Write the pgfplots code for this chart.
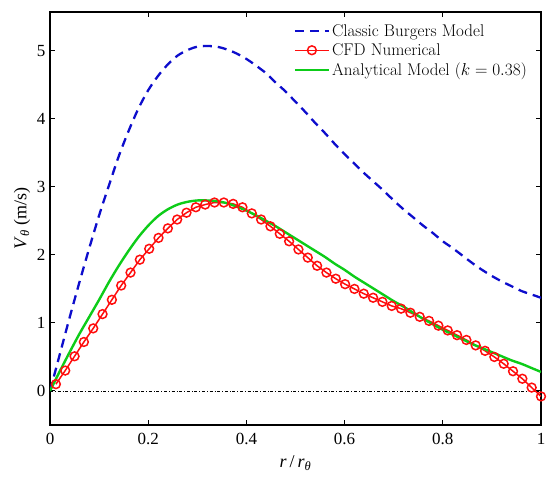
\documentclass[border=0pt]{standalone}
\usepackage{fontspec}
\usepackage{pgfplots}
\pgfplotsset{compat=1.18}
\newfontfamily\tnr{Liberation Serif}
\definecolor{cblue}{rgb}{0.05,0.05,0.8}
\definecolor{cred}{rgb}{1,0.05,0.05}
\definecolor{cgreen}{rgb}{0.05,0.80,0.10}
\pgfplotsset{
  lineleg/.style={legend image code/.code={\draw[##1] (0pt,0pt) -- (34pt,0pt);}},
  markleg/.style={legend image code/.code={\draw[##1, mark repeat=2, mark phase=2] plot coordinates {(0pt,0pt) (17pt,0pt) (34pt,0pt)};}},
}
\begin{document}
\begin{tikzpicture}
\begin{axis}[
  scale only axis, width=491pt, height=413pt,
  xmin=0, xmax=1, ymin=-0.5, ymax=5.57,
  xtick={0,0.2,0.4,0.6,0.8,1}, xticklabels={0,0.2,0.4,0.6,0.8,1},
  ytick={0,1,2,3,4,5}, yticklabels={0,1,2,3,4,5},
  tick align=inside, major tick length=5pt,
  axis line style={line width=1.1pt},
  every tick/.style={black, line width=1pt},
  tick label style={font=\tnr\fontsize{17}{17}\selectfont},
  xticklabel style={yshift=-5pt},
  yticklabel style={xshift=-1pt},
  /pgf/number format/assume math mode=true,
  xlabel={\tnr\fontsize{18}{18}\selectfont\textit{r}\,/\,\textit{r}\textsubscript{\textit{θ}}},
  ylabel={\tnr\fontsize{18}{18}\selectfont\textit{V}\textsubscript{\textit{θ}} (m/s)},
  xlabel style={yshift=-4pt},
  legend style={at={(1,1)}, anchor=north east, xshift=-9pt, yshift=-8pt,
    draw=none, fill=none, font=\fontsize{17}{19}\selectfont,
    row sep=2pt},
  legend cell align=left,
]
\addplot[black, line width=0.6pt, dash dot, forget plot] coordinates {(0,0) (1,0)};
\addplot[cblue, line width=2.3pt, dash pattern=on 9pt off 6pt, smooth, lineleg] coordinates {
(0,0) (0.02,0.54) (0.04,1.08) (0.06,1.60) (0.08,2.10) (0.10,2.58) (0.12,3.02)
(0.14,3.45) (0.16,3.82) (0.18,4.15) (0.20,4.42) (0.22,4.63) (0.24,4.80)
(0.26,4.93) (0.28,5.01) (0.30,5.06) (0.32,5.07) (0.34,5.06) (0.36,5.02)
(0.38,4.96) (0.40,4.88) (0.42,4.78) (0.44,4.67) (0.46,4.53) (0.48,4.40)
(0.50,4.25) (0.52,4.10) (0.54,3.94) (0.56,3.79) (0.58,3.63) (0.60,3.48)
(0.62,3.34) (0.64,3.20) (0.66,3.07) (0.68,2.94) (0.70,2.80) (0.72,2.67)
(0.74,2.55) (0.76,2.43) (0.78,2.32) (0.80,2.20) (0.82,2.10) (0.84,1.99)
(0.86,1.88) (0.88,1.78) (0.90,1.69) (0.92,1.61) (0.94,1.54) (0.96,1.47)
(0.98,1.42) (1.00,1.37)};
\addlegendentry{Classic Burgers Model}
\addplot[cred, line width=1.5pt, mark=o, mark size=4.4pt, mark options={line width=1.5pt, solid}, markleg] coordinates {
(0.012,0.10) (0.031,0.30) (0.050,0.51) (0.069,0.72) (0.088,0.92) (0.107,1.13)
(0.126,1.34) (0.145,1.55) (0.164,1.74) (0.183,1.93) (0.202,2.09) (0.221,2.25)
(0.240,2.39) (0.259,2.52) (0.278,2.62) (0.297,2.70) (0.316,2.74) (0.335,2.77)
(0.354,2.77) (0.373,2.75) (0.392,2.70) (0.411,2.61) (0.430,2.52) (0.449,2.42)
(0.468,2.31) (0.487,2.20) (0.506,2.08) (0.525,1.96) (0.544,1.84) (0.563,1.74)
(0.582,1.65) (0.601,1.57) (0.620,1.50) (0.639,1.43) (0.658,1.37) (0.677,1.31)
(0.696,1.25) (0.715,1.21) (0.734,1.15) (0.753,1.09) (0.772,1.03) (0.791,0.96)
(0.810,0.89) (0.829,0.82) (0.848,0.75) (0.867,0.67) (0.886,0.59) (0.905,0.50)
(0.924,0.40) (0.943,0.29) (0.962,0.18) (0.981,0.05) (1.000,-0.08)};
\addlegendentry{CFD Numerical}
\addplot[cgreen, line width=2.4pt, smooth, lineleg] coordinates {
(0,0) (0.02,0.29) (0.04,0.57) (0.06,0.84) (0.08,1.09) (0.10,1.34) (0.12,1.60)
(0.14,1.84) (0.16,2.06) (0.18,2.26) (0.20,2.43) (0.22,2.57) (0.24,2.67)
(0.26,2.74) (0.28,2.78) (0.30,2.80) (0.32,2.80) (0.34,2.79) (0.36,2.76)
(0.38,2.71) (0.40,2.65) (0.42,2.58) (0.44,2.50) (0.46,2.42) (0.48,2.33)
(0.50,2.24) (0.52,2.15) (0.54,2.06) (0.56,1.97) (0.58,1.87) (0.60,1.78)
(0.62,1.68) (0.64,1.59) (0.66,1.50) (0.68,1.41) (0.70,1.32) (0.72,1.24)
(0.74,1.15) (0.76,1.06) (0.78,0.98) (0.80,0.90) (0.82,0.83) (0.84,0.76)
(0.86,0.69) (0.88,0.63) (0.90,0.57) (0.92,0.51) (0.94,0.45) (0.96,0.40)
(0.98,0.34) (1.00,0.28)};
\addlegendentry{Analytical Model ($k=0.38$)}
\end{axis}
\path ([shift={(-50pt,-53pt)}]current axis.south west) rectangle ([shift={(9pt,12pt)}]current axis.north east);
\end{tikzpicture}
\end{document}
